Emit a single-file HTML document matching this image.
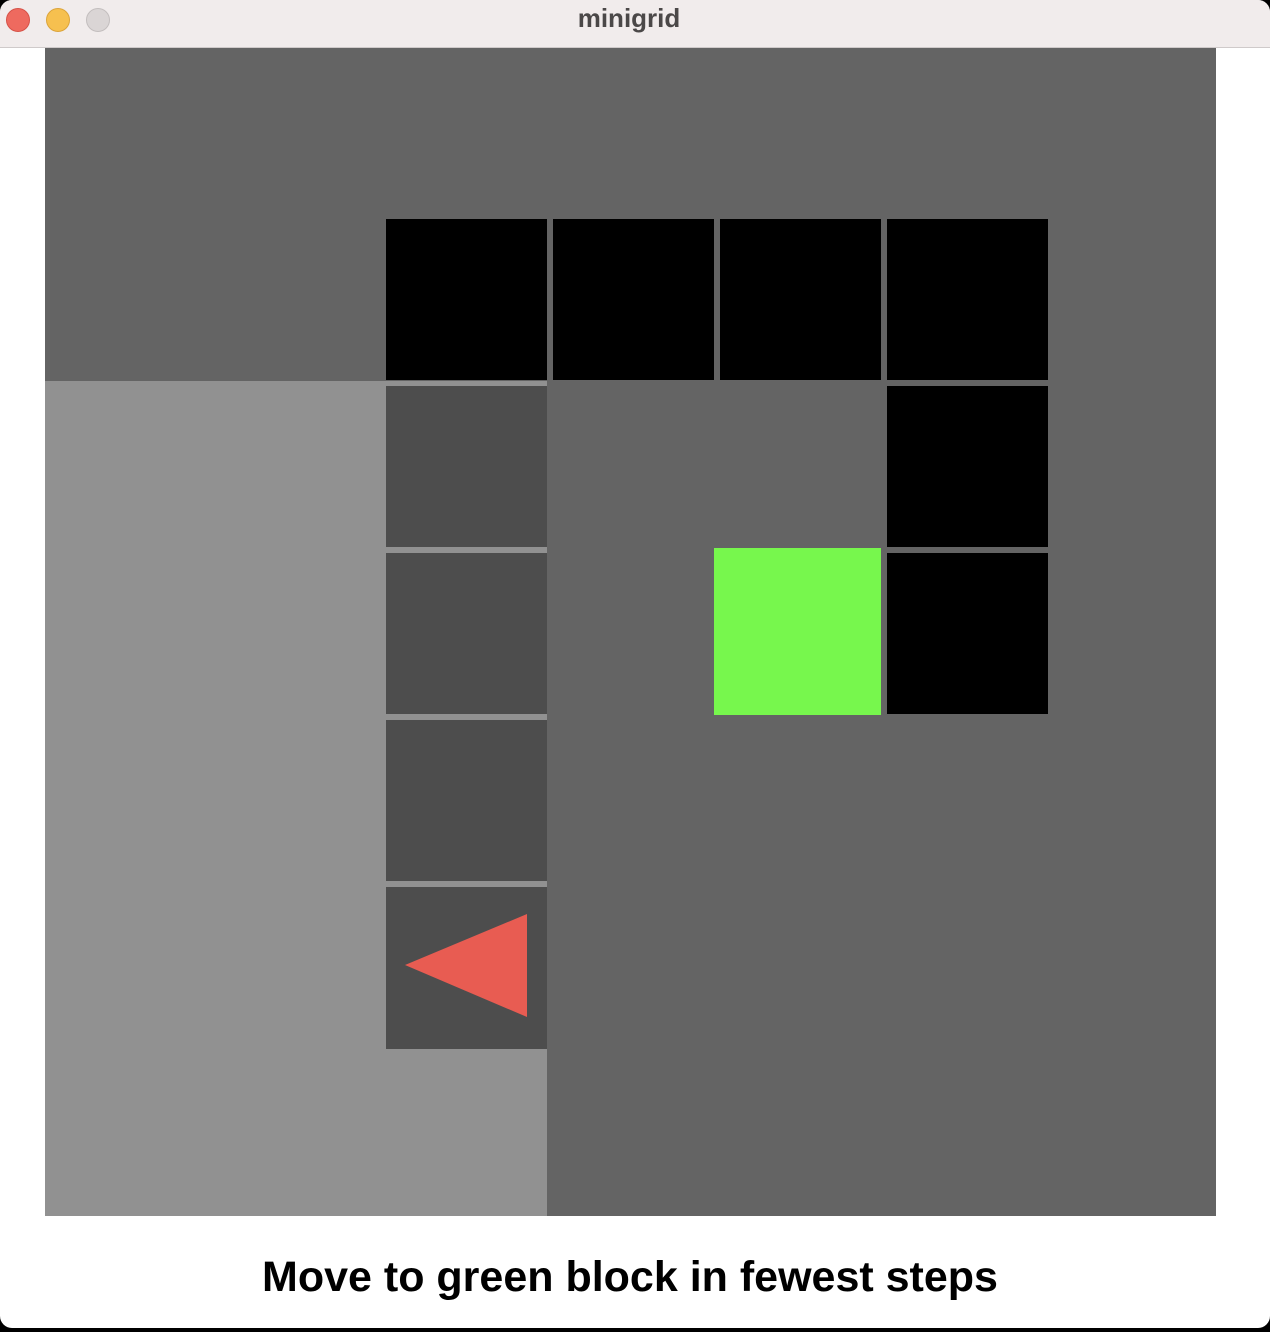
<!DOCTYPE html>
<html><head><meta charset="utf-8"><style>
html,body{margin:0;padding:0;width:1270px;height:1332px;overflow:hidden;background:#000;font-family:"Liberation Sans",sans-serif}
.a{position:absolute}
</style></head><body>
<div class="a" style="left:0;top:0;width:1270px;height:1328px;background:#fff;border-radius:12px;overflow:hidden">
 <div class="a" style="left:0;top:0;width:1270px;height:47px;background:#f1ecec;border-bottom:1px solid #cfcaca"></div>
 <div class="a" style="left:6px;top:8px;width:22px;height:22px;border-radius:50%;background:#ee6a5f;border:1px solid #d65248"></div>
 <div class="a" style="left:46px;top:8px;width:22px;height:22px;border-radius:50%;background:#f6c04f;border:1px solid #dca43a"></div>
 <div class="a" style="left:86px;top:8px;width:22px;height:22px;border-radius:50%;background:#dad5d5;border:1px solid #c3bebe"></div>
 <div class="a" style="left:0;top:3px;width:1258px;text-align:center;font-size:26px;font-weight:bold;color:#4b4848">minigrid</div>

 <div class="a" style="left:45px;top:48px;width:1171px;height:1168px;background:#646464"></div>
 <div class="a" style="left:45px;top:381px;width:502px;height:835px;background:#919191"></div>
 <div class="a" style="left:45px;top:1049px;width:502px;height:167px;background:#919191"></div>

 <div class="a" style="left:386px;top:219px;width:161px;height:161px;background:#000"></div>
 <div class="a" style="left:553px;top:219px;width:161px;height:161px;background:#000"></div>
 <div class="a" style="left:720px;top:219px;width:161px;height:161px;background:#000"></div>
 <div class="a" style="left:887px;top:219px;width:161px;height:161px;background:#000"></div>
 <div class="a" style="left:887px;top:386px;width:161px;height:161px;background:#000"></div>
 <div class="a" style="left:887px;top:553px;width:161px;height:161px;background:#000"></div>

 <div class="a" style="left:386px;top:386px;width:161px;height:161px;background:#4d4d4d"></div>
 <div class="a" style="left:386px;top:553px;width:161px;height:161px;background:#4d4d4d"></div>
 <div class="a" style="left:386px;top:720px;width:161px;height:161px;background:#4d4d4d"></div>
 <div class="a" style="left:386px;top:887px;width:161px;height:162px;background:#4d4d4d"></div>

 <div class="a" style="left:714px;top:548px;width:167px;height:167px;background:#77f74d"></div>

 <svg class="a" style="left:0;top:0" width="1270" height="1332">
  <polygon points="405,965 527,914 527,1017" fill="#e85c52"/>
 </svg>

 <div class="a" style="left:0;top:1253px;width:1260px;text-align:center;font-size:43px;font-weight:bold;color:#000">Move to green block in fewest steps</div>
</div>
</body></html>
